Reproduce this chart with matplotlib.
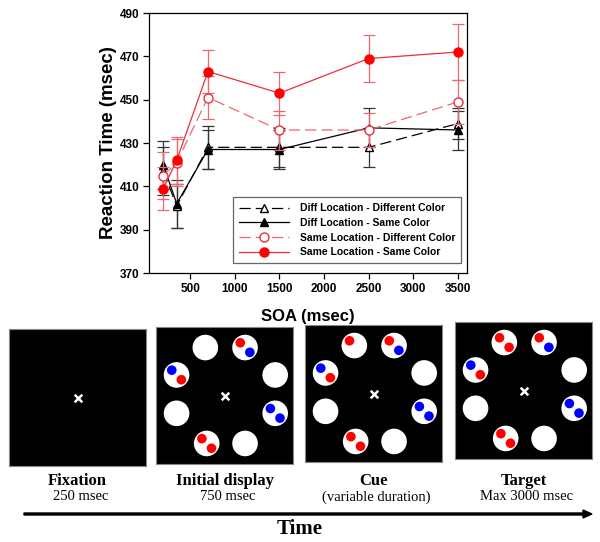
import matplotlib.pyplot as plt
from matplotlib.lines import Line2D
from matplotlib.patches import FancyArrow

# SOA conditions and mean reaction times (msec)
soa = [200, 350, 700, 1500, 2500, 3500]

diff_loc_diff_col = [417, 401, 428, 428, 428, 439]
diff_loc_diff_col_err = [11, 10, 10, 9, 9, 7]
diff_loc_same_col = [420, 402, 427, 427, 437, 436]
diff_loc_same_col_err = [11, 11, 9, 9, 9, 9]
same_loc_diff_col = [415, 421, 451, 436, 436, 449]
same_loc_diff_col_err = [11, 11, 10, 9, 8, 10]
same_loc_same_col = [409, 422, 463, 453, 469, 472]
same_loc_same_col_err = [10, 11, 10, 10, 11, 13]

labels = ["Diff Location - Different Color", "Diff Location - Same Color",
          "Same Location - Different Color", "Same Location - Same Color"]

yticks = [370, 390, 410, 430, 450, 470, 490]
xticks = [500, 1000, 1500, 2000, 2500, 3000, 3500]

# trial sequence schematic
slot_x = [0.36, 0.65, 0.15, 0.87, 0.15, 0.87, 0.37, 0.65]
slot_y = [0.85, 0.85, 0.65, 0.65, 0.37, 0.37, 0.15, 0.15]
# dots inside each slot: list of colours for (upper-left, lower-right)
display_dots = [[], ["red", "blue"], ["blue", "red"], [], [], ["blue", "blue"], ["red", "red"], []]
cue_dots = [["red"], ["red", "blue"], ["blue", "red"], [], [], ["blue", "blue"], ["red", "red"], []]
target_dots = [["red", "red"], ["red", "blue"], ["blue", "red"], [], [], ["blue", "blue"], ["red", "red"], []]
panel_names = ["Fixation", "Initial display", "Cue", "Target"]
panel_times = ["250 msec", "750 msec", "(variable duration)", "Max 3000 msec"]

W, H = 600, 542
fig = plt.figure(figsize=(6, 5.42), dpi=100)

ax = fig.add_axes([149 / W, 1 - 273 / H, 318 / W, 260 / H])
sans = "Liberation Sans"
serif = "Liberation Serif"
red_line = "#e8303a"
red_light = "#e86a70"

ax.errorbar(soa, diff_loc_diff_col, yerr=diff_loc_diff_col_err, color="black",
            ls=(0, (9, 4)), lw=0.9, marker="^", ms=6, mfc="white", mec="black",
            ecolor="#333333", elinewidth=0.9, capsize=4, capthick=0.9, zorder=3)
ax.errorbar(soa, diff_loc_same_col, yerr=diff_loc_same_col_err, color="black",
            ls="-", lw=0.9, marker="^", ms=6, mfc="black", mec="black",
            ecolor="#333333", elinewidth=0.9, capsize=4, capthick=0.9, zorder=3)
ax.errorbar(soa, same_loc_diff_col, yerr=same_loc_diff_col_err, color=red_light,
            ls=(0, (9, 4)), lw=0.9, marker="o", ms=6.5, mfc="white", mec=red_line,
            ecolor=red_light, elinewidth=0.9, capsize=4, capthick=0.9, zorder=4)
ax.errorbar(soa, same_loc_same_col, yerr=same_loc_same_col_err, color=red_line,
            ls="-", lw=0.9, marker="o", ms=6.5, mfc="red", mec="red",
            ecolor=red_light, elinewidth=0.9, capsize=4, capthick=0.9, zorder=4)

ax.set_xlim(40, 3600)
ax.set_ylim(370, 490)
ax.set_xticks(xticks)
ax.set_yticks(yticks)
ax.tick_params(direction="out", length=4, width=0.9, labelsize=8.5, pad=3)
for t in ax.get_xticklabels() + ax.get_yticklabels():
    t.set_fontfamily(sans)
    t.set_fontweight("bold")
for s in ax.spines.values():
    s.set_linewidth(0.9)
ax.set_ylabel("Reaction Time (msec)", fontsize=13.5, fontweight="bold",
              fontfamily=sans, labelpad=2)
ax.set_xlabel("SOA (msec)", fontsize=12, fontweight="bold", fontfamily=sans,
              labelpad=10)

handles = [
    Line2D([], [], color="black", ls=(0, (9, 4)), lw=0.9, marker="^", ms=6,
           mfc="white", mec="black"),
    Line2D([], [], color="black", ls="-", lw=0.9, marker="^", ms=6,
           mfc="black", mec="black"),
    Line2D([], [], color=red_light, ls=(0, (9, 4)), lw=0.9, marker="o", ms=6.5,
           mfc="white", mec=red_line),
    Line2D([], [], color=red_line, ls="-", lw=0.9, marker="o", ms=6.5,
           mfc="red", mec="red"),
]
leg = ax.legend(handles, labels, loc="lower left",
                bbox_to_anchor=((233 - 149) / 318, 10 / 260),
                borderaxespad=0, fancybox=False, framealpha=1,
                edgecolor="#666666", handlelength=4.8, handletextpad=1.1,
                labelspacing=0.45, borderpad=0.55,
                prop={"family": sans, "weight": "bold", "size": 7.5})
leg.get_frame().set_linewidth(0.9)

# trial sequence panels
panels_x = [9, 156, 305, 455]
panels_top = [329, 327, 325, 322]
pw, ph = 137, 137
dots_per_panel = [None, display_dots, cue_dots, target_dots]
off = 0.035
for i in range(4):
    pax = fig.add_axes([panels_x[i] / W, 1 - (panels_top[i] + ph) / H, pw / W, ph / H])
    pax.set_facecolor("black")
    pax.set_xlim(0, 1)
    pax.set_ylim(0, 1)
    pax.set_xticks([])
    pax.set_yticks([])
    for s in pax.spines.values():
        s.set_edgecolor("#888888")
        s.set_linewidth(0.8)
    pax.scatter([0.5], [0.5], marker="x", s=30, color="white", linewidths=1.8)
    dots = dots_per_panel[i]
    if dots is not None:
        pax.scatter(slot_x, slot_y, s=340, color="white", edgecolors="none")
        for x, y, cols in zip(slot_x, slot_y, dots):
            for k, c in enumerate(cols):
                dx, dy = (-off, off) if k == 0 else (off, -off)
                pax.scatter([x + dx], [y + dy], s=48, color=c, edgecolors="none")
    cx = (panels_x[i] + pw / 2) / W
    fig.text(cx, 1 - 481 / H, panel_names[i], ha="center", va="center",
             fontsize=12, fontweight="bold", fontfamily=serif)
    fig.text(cx + 0.005, 1 - 497 / H, panel_times[i], ha="center", va="center",
             fontsize=10.5, fontfamily=serif)

fig.patches.append(FancyArrow(
    24 / W, 1 - 514 / H, 568 / W, 0, width=2 / H, head_width=8 / H,
    head_length=9 / W, length_includes_head=True, color="black",
    transform=fig.transFigure, figure=fig))
fig.text(300 / W, 1 - 529 / H, "Time", ha="center", va="center", fontsize=15,
         fontweight="bold", fontfamily=serif)

fig.savefig("out.png", dpi=100)
